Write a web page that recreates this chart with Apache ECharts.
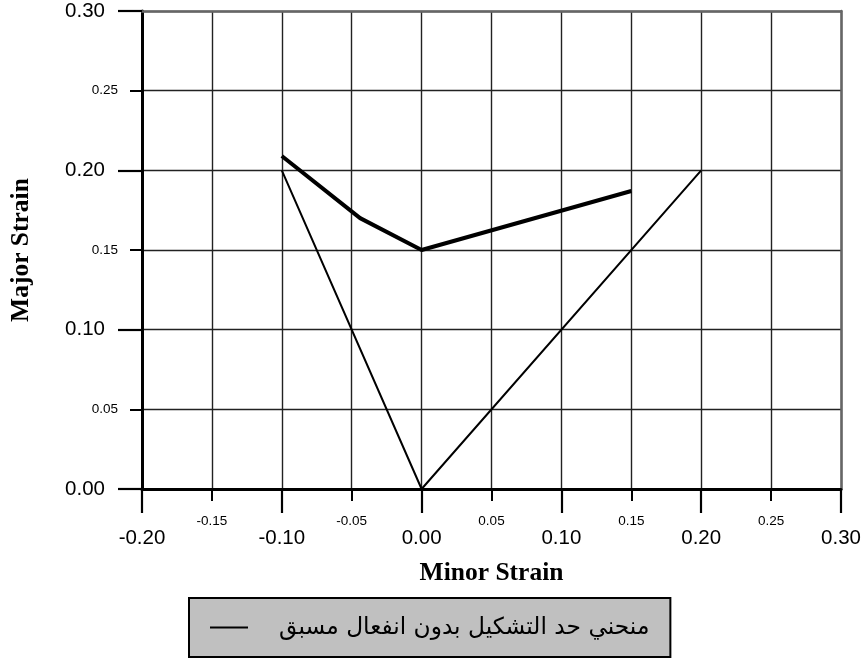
<!DOCTYPE html>
<html>
<head>
<meta charset="utf-8">
<script src="https://cdn.jsdelivr.net/npm/echarts@6/dist/echarts.min.js"></script>
<style>
  html, body { margin: 0; padding: 0; background: #fff; }
  #chart { width: 864px; height: 661px; }
</style>
</head>
<body>
<div id="chart"></div>
<script>
// Forming limit curves: minor strain (x) against major strain (y)
const flcNoPrestrainName = 'منحني حد التشكيل بدون انفعال مسبق';
const flcNoPrestrainX = [-0.10, 0.00, 0.20];
const flcNoPrestrainY = [0.20, 0.00, 0.20];

const flcUpperX = [-0.10, -0.044, 0.00, 0.15];
const flcUpperY = [0.209, 0.170, 0.150, 0.187];

const xRange = [-0.20, 0.30];
const yRange = [0.00, 0.30];
const minorStep = 0.05;
const majorStep = 0.10;

const xTitle = 'Minor Strain';
const yTitle = 'Major Strain';

const labelFont = 'Arial, "Liberation Sans", sans-serif';
const titleFont = '"Times New Roman", "Liberation Serif", serif';

function isMajor(v) {
  return Math.abs(Math.round(v / minorStep)) % 2 === 0;
}
function fmt(v) {
  return v.toFixed(2);
}
function pairs(xs, ys) {
  return xs.map((x, i) => [x, ys[i]]);
}

// Minor axis: grid lines every 0.05, short ticks and small labels
function minorAxis(range, pos, margin) {
  return {
    type: 'value', position: pos, min: range[0], max: range[1], interval: minorStep,
    axisLine: { show: false, onZero: false },
    axisTick: { show: true, inside: false, length: 12, lineStyle: { color: '#000', width: 2 } },
    axisLabel: {
      fontFamily: labelFont, fontSize: 13.5, color: '#000', margin: margin,
      formatter: v => isMajor(v) ? '' : fmt(v)
    },
    splitLine: { show: true, lineStyle: { color: '#222', width: 1.4 } }
  };
}
// Major axis: heavy axis line, long ticks and large labels
function majorAxis(range, pos, margin, extra) {
  return Object.assign({
    type: 'value', position: pos, min: range[0], max: range[1], interval: majorStep,
    axisLine: { show: true, onZero: false, lineStyle: { color: '#000', width: 3 } },
    axisTick: { show: true, inside: false, length: 24, lineStyle: { color: '#000', width: 2.2 } },
    axisLabel: { fontFamily: labelFont, fontSize: 20.5, color: '#000', margin: margin, formatter: v => fmt(v) },
    splitLine: { show: false }
  }, extra || {});
}
// Frame edge on the far sides
function frameAxis(range, pos) {
  return {
    type: 'value', position: pos, min: range[0], max: range[1], interval: majorStep,
    axisLine: { show: true, onZero: false, lineStyle: { color: '#666', width: 2.5 } },
    axisTick: { show: false }, axisLabel: { show: false }, splitLine: { show: false }
  };
}

const titleStyle = { fontFamily: titleFont, fontSize: 25.5, fontWeight: 'bold', color: '#000' };

const chart = echarts.init(document.getElementById('chart'), null, { renderer: 'canvas' });
chart.setOption({
  backgroundColor: '#fff',
  animation: false,
  grid: { left: 141, right: 23, top: 11, bottom: 172, containLabel: false },
  xAxis: [
    minorAxis(xRange, 'bottom', 25),
    majorAxis(xRange, 'bottom', 39, {
      name: xTitle, nameLocation: 'middle', nameGap: 71, nameTextStyle: titleStyle
    }),
    frameAxis(xRange, 'top')
  ],
  yAxis: [
    minorAxis(yRange, 'left', 24),
    majorAxis(yRange, 'left', 37, {
      name: yTitle, nameLocation: 'middle', nameGap: 108, nameRotate: 90, nameTextStyle: titleStyle
    }),
    frameAxis(yRange, 'right')
  ],
  legend: {
    data: [{ name: flcNoPrestrainName, icon: 'rect' }],
    left: 189, top: 598,
    orient: 'horizontal',
    backgroundColor: '#c0c0c0',
    borderColor: '#000', borderWidth: 2, borderRadius: 0,
    padding: [18, 21, 18, 21],
    itemWidth: 38, itemHeight: 2,
    textStyle: { fontFamily: '"DejaVu Sans", Arial, sans-serif', fontSize: 23.3, color: '#000', padding: [0, 0, 0, 26] }
  },
  series: [
    {
      name: flcNoPrestrainName, type: 'line', xAxisIndex: 0, yAxisIndex: 0,
      data: pairs(flcNoPrestrainX, flcNoPrestrainY),
      symbol: 'none', lineStyle: { color: '#000', width: 2 }, itemStyle: { color: '#000' }
    },
    {
      name: 'upper', type: 'line', xAxisIndex: 0, yAxisIndex: 0,
      data: pairs(flcUpperX, flcUpperY),
      symbol: 'none', lineStyle: { color: '#000', width: 4 }, itemStyle: { color: '#000' }
    }
  ]
});
</script>
</body>
</html>
